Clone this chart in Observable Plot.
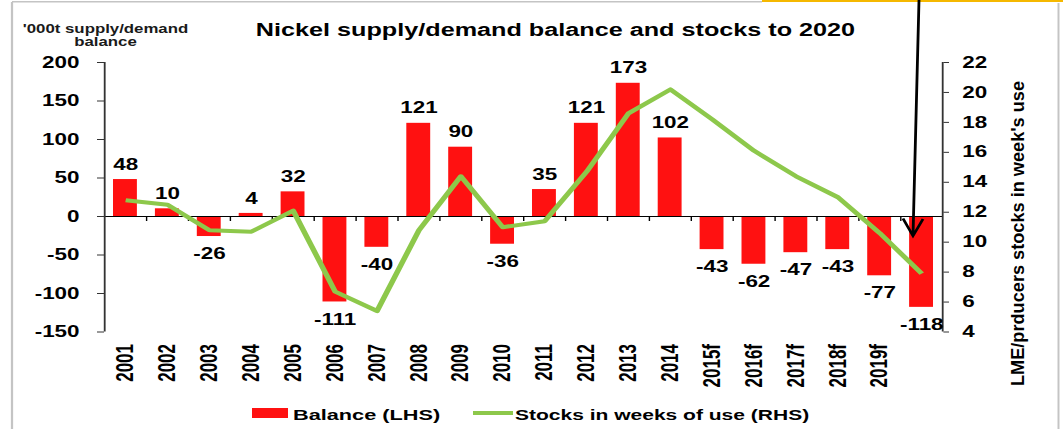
<!DOCTYPE html>
<html>
<head>
<meta charset="utf-8">
<script src="https://cdn.jsdelivr.net/npm/d3@7"></script>
<script src="https://cdn.jsdelivr.net/npm/@observablehq/plot@0.6"></script>
<style>
  html, body { margin: 0; padding: 0; background: #fff; overflow: hidden; }
  #wrap { position: absolute; left: 0; top: 0; width: 759px; height: 429px; transform-origin: 0 0; }
  #wrap > svg { position: absolute; left: 0; top: 0; }
  #overlay { pointer-events: none; }
</style>
</head>
<body>
<div id="wrap"></div>
<script>
// ---- data ----
const years = ["2001","2002","2003","2004","2005","2006","2007","2008","2009","2010",
               "2011","2012","2013","2014","2015f","2016f","2017f","2018f","2019f","2020f"];
const balance = [48, 10, -26, 4, 32, -111, -40, 121, 90, -36,
                 35, 121, 173, 102, -43, -62, -47, -43, -77, -118];
const stocks = [12.8, 12.5, 10.8, 10.7, 12.1, 6.7, 5.4, 10.8, 14.4, 11.0,
                11.4, 14.7, 18.6, 20.2, 18.2, 16.1, 14.4, 13.0, 10.6, 7.9];
const balanceTicks = [-150, -100, -50, 0, 50, 100, 150, 200];
const stockTicks = [4, 6, 8, 10, 12, 14, 16, 18, 20, 22];
const xTickLabels = years.slice(0, 19);
const titleText = "Nickel supply/demand balance and stocks to 2020";
const leftTitle = ["'000t supply/demand", "balance"];
const rightTitle = "LME/prducers stocks in week's use";
const legendBalance = "Balance (LHS)";
const legendStocks = "Stocks in weeks of use (RHS)";

const data = years.map((year, i) => ({year, balance: balance[i], stocks: stocks[i]}));

// ---- layout ----
const W = 759, H = 429;
const SX = 1063 / W;
document.getElementById("wrap").style.transform = `scaleX(${SX})`;
const mL = 104 / SX, mR = W - 942 / SX, mT = 62, mB = H - 331.5;
const step = (W - mL - mR) / years.length;
const FONT = "'Liberation Sans', Arial, Helvetica, sans-serif";
const RED = "#ff1111", GREEN = "#8dc84b";

// right axis (weeks) mapped onto left axis (kt)
const toLeft = s => -150 + (s - 4) * 350 / 18;
const fromLeft = v => Math.round(4 + (v + 150) * 18 / 350);

const chart = Plot.plot({
  width: W, height: H,
  marginLeft: mL, marginRight: mR, marginTop: mT, marginBottom: mB,
  style: {fontFamily: FONT, fontWeight: "bold", color: "#000", background: "transparent"},
  x: {type: "band", domain: years, paddingInner: 0.43, paddingOuter: 0.215, round: false},
  y: {domain: [-150, 200]},
  marks: [
    Plot.barY(data, {x: "year", y: "balance", fill: RED}),
    Plot.ruleY([0], {stroke: "#000", strokeWidth: 1}),
    Plot.ruleX(years.slice(1), {x: d => d, y1: 0, y2: -6.5, dx: -step / 2, stroke: "#000", strokeWidth: 1}),
    Plot.ruleX([years[0]], {x: d => d, y1: -150, y2: 200, dx: -step / 2, stroke: "#333", strokeWidth: 1.3}),
    Plot.ruleX([years[years.length - 1]], {x: d => d, y1: -150, y2: 200, dx: step / 2, stroke: "#333", strokeWidth: 1.3}),
    Plot.axisY(balanceTicks, {anchor: "left", tickSize: 5, tickPadding: 13, fontSize: 16, label: null, stroke: "#333",
      tickFormat: v => String(v)}),
    Plot.axisY(stockTicks.map(toLeft), {anchor: "right", tickSize: 4, tickPadding: 10, fontSize: 16, label: null,
      tickFormat: v => String(fromLeft(v)), stroke: "#333"}),
    Plot.axisX(xTickLabels, {anchor: "bottom", tickSize: 0, tickPadding: 12, tickRotate: -90, fontSize: 17, label: null}),
    Plot.line(data, {x: "year", y: d => toLeft(d.stocks), stroke: GREEN, strokeWidth: 4, strokeLinecap: "butt"}),
    Plot.text(data, {filter: d => d.balance >= 0, x: "year", y: "balance", text: d => String(d.balance),
      dy: -15, fontSize: 16, fontWeight: "bold", fill: "#000"}),
    Plot.text(data, {filter: d => d.balance < 0, x: "year", y: "balance", text: d => String(d.balance),
      dy: 17.5, fontSize: 16, fontWeight: "bold", fill: "#000"})
  ]
});
document.getElementById("wrap").appendChild(chart);

// ---- overlay: titles, legend, annotation arrow, frame ----
const ov = d3.select("#wrap").append("svg").attr("id", "overlay")
  .attr("width", W).attr("height", H)
  .attr("font-family", FONT).attr("font-weight", "bold");

// outer frame
ov.append("line").attr("x1", 12 / SX).attr("x2", 12 / SX).attr("y1", 2).attr("y2", H)
  .attr("stroke", "#c4c4c4").attr("stroke-width", 1.6);
ov.append("line").attr("x1", 12 / SX).attr("x2", 762 / SX).attr("y1", 1.8).attr("y2", 1.8)
  .attr("stroke", "#c4c4c4").attr("stroke-width", 1.6);
ov.append("line").attr("x1", 1058.5 / SX).attr("x2", 1058.5 / SX).attr("y1", 3).attr("y2", H)
  .attr("stroke", "#c4c4c4").attr("stroke-width", 1.4);
ov.append("rect").attr("x", 762 / SX).attr("y", 0).attr("width", W - 762 / SX).attr("height", 2)
  .attr("fill", "#f5b800");

// title
ov.append("text").attr("x", 555.5 / SX).attr("y", 36).attr("text-anchor", "middle")
  .attr("font-size", 18).attr("fill", "#000").text(titleText);

// left axis title
leftTitle.forEach((t, i) => {
  ov.append("text").attr("x", 105.5 / SX).attr("y", 33.3 + i * 12.4).attr("text-anchor", "middle")
    .attr("font-size", 12).attr("fill", "#1a1a1a").text(t);
});

// right axis title
ov.append("text")
  .attr("transform", `translate(${1018 / SX},${233.5}) rotate(-90)`)
  .attr("text-anchor", "middle").attr("dominant-baseline", "central")
  .attr("font-size", 13).attr("fill", "#000")
  .attr("textLength", 305).attr("lengthAdjust", "spacingAndGlyphs")
  .text(rightTitle);

// legend
ov.append("rect").attr("x", 252 / SX).attr("y", 408).attr("width", 36 / SX).attr("height", 10).attr("fill", RED);
ov.append("text").attr("x", 293 / SX).attr("y", 420.5).attr("font-size", 15.5).attr("fill", "#000").text(legendBalance);
ov.append("line").attr("x1", 473 / SX).attr("x2", 513 / SX).attr("y1", 413).attr("y2", 413)
  .attr("stroke", GREEN).attr("stroke-width", 4);
ov.append("text").attr("x", 515 / SX).attr("y", 420.5).attr("font-size", 15).attr("fill", "#000").text(legendStocks);

// annotation arrow
ov.append("path")
  .attr("d", `M${919 / SX},0 L${913 / SX},236 M${903 / SX},218.5 L${913 / SX},236 L${923 / SX},219`)
  .attr("fill", "none").attr("stroke", "#000").attr("stroke-width", 2).attr("stroke-linejoin", "miter");
</script>
</body>
</html>
